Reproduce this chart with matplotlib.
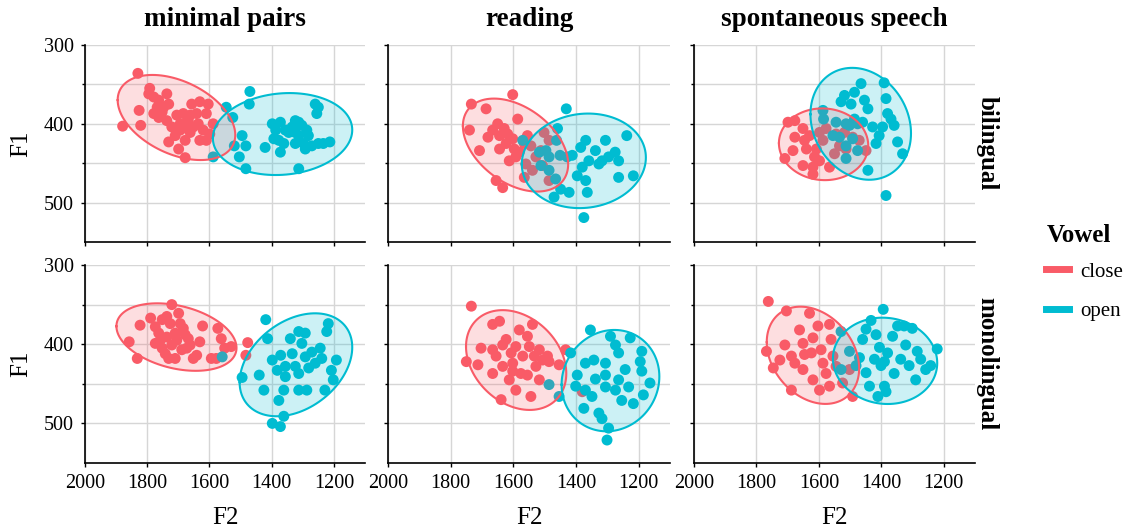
#import used libraries
import numpy as np
import matplotlib
matplotlib.use("Agg")
from matplotlib import pyplot as plt
from matplotlib.lines import Line2D

plt.rcParams['font.family'] = ['Liberation Serif', 'DejaVu Serif']

# panel layout: rows = speaker group, columns = speech style
styles = ["minimal pairs", "reading", "spontaneous speech"]
groups = ["bilingual", "monolingual"]
vowels = ["close", "open"]

# ---- formant values (F2, F1 in Hz) ----
# minimal pairs / bilingual
mp_bi_close_f2 = [1830, 1792, 1795, 1779, 1763, 1737, 1731, 1747, 1826, 1821, 1879, 1779, 1763, 1737,
                  1721, 1705, 1694, 1694, 1673, 1657, 1631, 1604, 1662, 1641, 1610, 1636, 1620, 1610,
                  1631, 1662, 1678, 1699, 1731, 1678, 1599, 1588, 1710, 1752, 1668, 1652, 1684, 1768]
mp_bi_close_f1 = [336, 355, 362, 366, 370, 362, 375, 379, 383, 402, 403, 387, 392, 396,
                  404, 389, 400, 408, 404, 375, 372, 375, 389, 387, 387, 400, 408, 421,
                  421, 411, 421, 432, 423, 443, 413, 400, 415, 385, 396, 404, 387, 379]
mp_bi_open_f2 = [1470, 1472, 1546, 1525, 1495, 1483, 1520, 1504, 1588, 1483, 1421, 1398, 1387,
                 1372, 1356, 1377, 1393, 1361, 1372, 1334, 1324, 1313, 1303, 1287, 1282, 1313,
                 1324, 1297, 1292, 1271, 1250, 1234, 1213, 1255, 1250, 1260, 1313, 1345, 1324]
mp_bi_open_f1 = [359, 375, 379, 392, 415, 428, 428, 442, 442, 457, 430, 400, 408,
                 398, 408, 421, 419, 425, 436, 404, 396, 398, 402, 408, 415, 415,
                 425, 425, 432, 428, 425, 425, 423, 387, 379, 375, 457, 411, 411]

# reading / bilingual
rd_bi_close_f2 = [1734, 1687, 1602, 1740, 1708, 1681, 1666, 1650, 1644, 1629, 1618, 1602, 1586,
                  1597, 1581, 1565, 1555, 1544, 1560, 1528, 1512, 1502, 1486, 1655, 1634, 1565,
                  1486, 1613, 1592, 1539, 1507, 1644, 1623]
rd_bi_close_f1 = [375, 381, 363, 408, 434, 417, 408, 400, 415, 406, 413, 419, 394,
                  432, 436, 425, 415, 428, 451, 442, 434, 411, 421, 472, 481, 468,
                  472, 447, 442, 459, 453, 432, 425]
rd_bi_open_f2 = [1431, 1459, 1462, 1570, 1496, 1451, 1512, 1486, 1465, 1449, 1470, 1422, 1396,
                 1369, 1364, 1375, 1412, 1385, 1369, 1359, 1380, 1338, 1306, 1317, 1296, 1275,
                 1264, 1238, 1264, 1217, 1327, 1428, 1486, 1517]
rd_bi_open_f1 = [381, 406, 421, 421, 434, 440, 453, 459, 470, 483, 493, 487, 466,
                 472, 487, 519, 440, 430, 421, 447, 455, 434, 421, 447, 442, 436,
                 447, 415, 468, 466, 451, 442, 442, 436]

# spontaneous speech / bilingual
sp_bi_close_f2 = [1699, 1677, 1709, 1683, 1677, 1651, 1646, 1640, 1651, 1619, 1614, 1608, 1598,
                  1587, 1577, 1566, 1550, 1534, 1513, 1492, 1471, 1449, 1619, 1598, 1630, 1545, 1518]
sp_bi_close_f1 = [398, 396, 444, 434, 417, 406, 421, 432, 453, 455, 442, 432, 447,
                  421, 406, 455, 438, 428, 432, 417, 421, 434, 464, 411, 415, 413, 411]
sp_bi_open_f2 = [1587, 1585, 1545, 1529, 1518, 1497, 1486, 1465, 1454, 1443, 1513, 1486, 1476,
                 1460, 1555, 1534, 1513, 1492, 1476, 1513, 1443, 1391, 1385, 1380, 1369, 1359,
                 1396, 1407, 1417, 1348, 1332, 1385, 1428, 1502]
sp_bi_open_f1 = [383, 394, 398, 372, 364, 375, 360, 349, 370, 381, 400, 394, 400,
                 398, 415, 417, 428, 419, 434, 444, 459, 348, 368, 387, 394, 402,
                 404, 415, 425, 423, 438, 491, 404, 402]

# minimal pairs / monolingual
mp_mo_close_f2 = [1858, 1832, 1823, 1789, 1774, 1763, 1752, 1737, 1726, 1721, 1710, 1699, 1694,
                  1684, 1678, 1668, 1662, 1752, 1742, 1721, 1731, 1710, 1689, 1673, 1652, 1641,
                  1631, 1622, 1573, 1562, 1551, 1530, 1594, 1578, 1477, 1483, 1774, 1758, 1705, 1737]
mp_mo_close_f1 = [397, 418, 376, 367, 378, 386, 369, 365, 374, 350, 386, 361, 374,
                  380, 388, 393, 401, 405, 412, 401, 418, 418, 407, 405, 418, 414,
                  397, 377, 380, 393, 405, 403, 418, 418, 398, 414, 399, 395, 395, 391]
mp_mo_open_f2 = [1419, 1413, 1559, 1495, 1440, 1425, 1398, 1382, 1371, 1356, 1361, 1377, 1361,
                 1398, 1372, 1340, 1334, 1313, 1303, 1292, 1313, 1271, 1260, 1244, 1239, 1281,
                 1313, 1287, 1229, 1218, 1223, 1192, 1208, 1202, 1356, 1324, 1292]
mp_mo_open_f1 = [369, 393, 416, 442, 439, 458, 420, 433, 414, 428, 458, 471, 491,
                 500, 504, 393, 412, 384, 399, 416, 437, 410, 424, 405, 418, 430,
                 458, 458, 458, 374, 384, 420, 433, 445, 441, 428, 386]

# reading / monolingual
rd_mo_close_f2 = [1734, 1750, 1713, 1703, 1666, 1644, 1634, 1666, 1655, 1623, 1607, 1602, 1592,
                  1581, 1570, 1555, 1549, 1539, 1533, 1528, 1517, 1507, 1491, 1486, 1666, 1639,
                  1613, 1592, 1544, 1517, 1454, 1433, 1380, 1634, 1576, 1555, 1602]
rd_mo_close_f1 = [352, 422, 426, 405, 375, 371, 401, 407, 415, 394, 411, 424, 403,
                  382, 415, 390, 403, 375, 415, 428, 407, 420, 415, 422, 437, 470,
                  445, 458, 466, 445, 426, 407, 460, 428, 437, 439, 434]
rd_mo_open_f2 = [1354, 1417, 1486, 1454, 1396, 1370, 1343, 1306, 1290, 1274, 1264, 1227, 1190,
                 1195, 1190, 1164, 1185, 1217, 1254, 1274, 1306, 1338, 1370, 1375, 1327, 1317,
                 1296, 1301, 1349, 1306, 1264, 1232, 1243, 1401]
rd_mo_open_f1 = [382, 411, 451, 466, 439, 424, 420, 424, 390, 401, 411, 392, 409,
                 422, 434, 449, 464, 475, 471, 458, 454, 444, 458, 481, 487, 494,
                 506, 521, 466, 439, 445, 454, 432, 453]

# spontaneous speech / monolingual
sp_mo_close_f2 = [1762, 1704, 1630, 1768, 1746, 1709, 1688, 1688, 1662, 1651, 1646, 1651, 1624,
                  1619, 1603, 1593, 1587, 1577, 1566, 1561, 1555, 1545, 1524, 1566, 1598, 1492,
                  1502, 1677, 1619, 1725]
sp_mo_close_f1 = [346, 358, 361, 409, 430, 401, 415, 458, 382, 399, 413, 432, 411,
                  392, 377, 407, 424, 437, 453, 394, 415, 428, 449, 375, 458, 466,
                  432, 424, 445, 420]
sp_mo_open_f2 = [1394, 1529, 1529, 1502, 1470, 1460, 1449, 1433, 1417, 1406, 1422, 1449, 1401,
                 1380, 1364, 1348, 1327, 1301, 1322, 1338, 1311, 1285, 1274, 1258, 1290, 1242,
                 1221, 1359, 1390, 1411, 1385, 1438, 1481, 1390]
sp_mo_open_f1 = [356, 384, 432, 409, 417, 394, 381, 370, 388, 404, 419, 436, 427,
                 411, 390, 377, 377, 380, 401, 419, 427, 409, 419, 432, 445, 427,
                 406, 437, 453, 466, 460, 453, 427, 422]

# ---- 95% ellipses (panel order: bilingual mp/rd/sp, monolingual mp/rd/sp) ----
# centre, half extent along each axis, and correlation (tilt)
ell_close_f2 = [1706, 1593, 1585, 1706, 1591, 1619]
ell_close_f1 = [392, 427, 426, 391, 420, 414]
ell_close_half_f2 = [189, 168, 143, 193, 160, 148]
ell_close_half_f1 = [54, 59, 45.5, 42.6, 63, 61.4]
ell_close_rho = [-0.41, -0.41, -0.03, -0.32, -0.27, -0.27]

ell_open_f2 = [1365, 1375, 1466, 1322, 1290, 1388]
ell_open_f1 = [413, 447, 400, 426, 446, 421]
ell_open_half_f2 = [224, 198, 161, 181, 156, 167]
ell_open_half_f1 = [52, 60, 71, 65, 64, 54.5]
ell_open_rho = [0.10, 0.07, -0.17, 0.34, 0.08, -0.05]

panel_data = {
    ("bilingual", "minimal pairs"): [(mp_bi_close_f2, mp_bi_close_f1), (mp_bi_open_f2, mp_bi_open_f1)],
    ("bilingual", "reading"): [(rd_bi_close_f2, rd_bi_close_f1), (rd_bi_open_f2, rd_bi_open_f1)],
    ("bilingual", "spontaneous speech"): [(sp_bi_close_f2, sp_bi_close_f1), (sp_bi_open_f2, sp_bi_open_f1)],
    ("monolingual", "minimal pairs"): [(mp_mo_close_f2, mp_mo_close_f1), (mp_mo_open_f2, mp_mo_open_f1)],
    ("monolingual", "reading"): [(rd_mo_close_f2, rd_mo_close_f1), (rd_mo_open_f2, rd_mo_open_f1)],
    ("monolingual", "spontaneous speech"): [(sp_mo_close_f2, sp_mo_close_f1), (sp_mo_open_f2, sp_mo_open_f1)],
}
ellipse_params = {
    "close": (ell_close_f2, ell_close_f1, ell_close_half_f2, ell_close_half_f1, ell_close_rho),
    "open": (ell_open_f2, ell_open_f1, ell_open_half_f2, ell_open_half_f1, ell_open_rho),
}

colors = {"close": "#F95B67", "open": "#00BCD1"}


#ellipse outline from centre, half extents and correlation
def ellipse_xy(cx, cy, hx, hy, rho, segments=121):
    t = np.linspace(0, 2 * np.pi, segments)
    x = cx + hx * np.cos(t)
    y = cy + hy * (rho * np.cos(t) + np.sqrt(1 - rho ** 2) * np.sin(t))
    return x, y


fig = plt.figure(figsize=(11.27, 5.30), dpi=100)
W, H = 1127.0, 530.0
col_px = [(85, 365), (388, 670), (694, 975)]
row_px = [(45, 242), (265, 463)]

for r, grp in enumerate(groups):
    for c, sty in enumerate(styles):
        k = r * len(styles) + c
        x0, x1 = col_px[c]
        y0, y1 = row_px[r]
        ax = fig.add_axes([x0 / W, 1 - y1 / H, (x1 - x0) / W, (y1 - y0) / H])
        pairs = panel_data[(grp, sty)]
        # points first, ellipses drawn on top (as in the original)
        for v, (f2, f1) in zip(vowels, pairs):
            ax.scatter(f2, f1, s=62, color=colors[v], edgecolors="none", zorder=3)
        for v in vowels:
            cx, cy, hx, hy, rho = [p[k] for p in ellipse_params[v]]
            ex, ey = ellipse_xy(cx, cy, hx, hy, rho)
            ax.fill(ex, ey, color=colors[v], alpha=0.2, lw=0, zorder=4)
            ax.plot(ex, ey, color=colors[v], lw=1.5, zorder=5)

        ax.set_xlim(2000, 1100)
        ax.set_ylim(550, 300)
        ax.set_xticks([2000, 1800, 1600, 1400, 1200])
        ax.set_yticks([300, 400, 500])
        ax.set_yticks([350, 450], minor=True)
        ax.grid(True, which="both", color="#d6d6d6", lw=1.0, zorder=0)
        ax.set_axisbelow(True)
        for s in ["top", "right"]:
            ax.spines[s].set_visible(False)
        ax.spines["left"].set_linewidth(1.2)
        ax.spines["bottom"].set_linewidth(1.2)
        ax.tick_params(which="both", length=3, width=1, labelsize=14.5, pad=5)
        ax.tick_params(which="minor", length=2)
        if c == 0:
            ax.set_ylabel("F1", fontsize=18, labelpad=8)
        else:
            ax.tick_params(labelleft=False)
        if r == 1:
            ax.set_xlabel("F2", fontsize=18, labelpad=10)
        else:
            ax.tick_params(labelbottom=False)
        if r == 0:
            ax.set_title(sty, fontsize=19.5, fontweight="bold", pad=14)
        if c == 2:
            ax.text(1.002, 0.5, grp, transform=ax.transAxes, rotation=270,
                    ha="left", va="center", fontsize=18, fontweight="bold")

#legend
fig.text(1047 / W, 1 - 236 / H, "Vowel", fontsize=18, fontweight="bold", va="center", ha="left")
handles = [Line2D([], [], color=colors[v], lw=5) for v in vowels]
fig.legend(handles, vowels, loc="upper left", bbox_to_anchor=(1046 / W, 1 - 262 / H),
           frameon=False, fontsize=15, borderpad=0, borderaxespad=0,
           handlelength=1.1, handletextpad=0.55, labelspacing=0.95)

plt.savefig("out.png", dpi=100)
plt.close()
